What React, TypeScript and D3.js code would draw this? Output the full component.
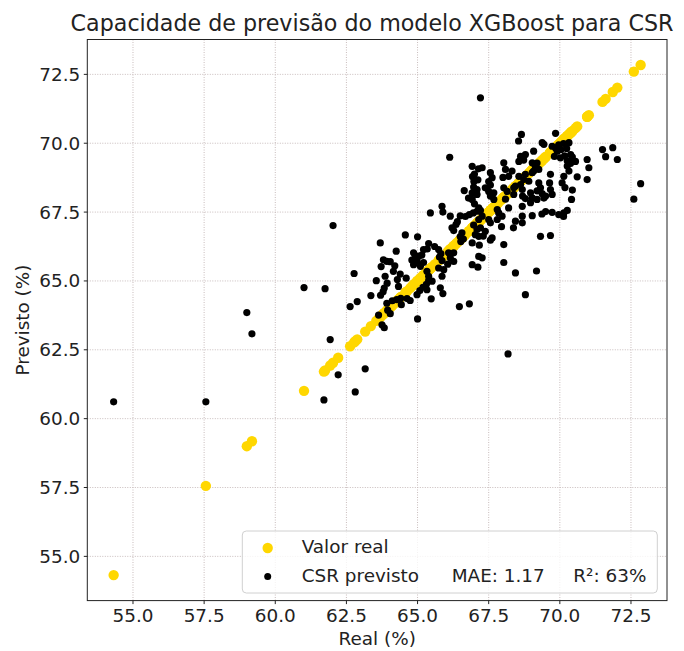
import React from "react";
import * as d3 from "d3";

// Real (%) values and model predictions (%)
const real: number[] = [
  54.32, 57.56, 59.0, 59.18, 61.01, 61.75, 61.71, 61.93, 62.03, 62.21, 62.77, 62.63, 62.81, 62.88, 63.16, 63.36,
  63.55, 63.63, 63.69, 63.72, 63.7, 63.79, 63.83, 63.75, 63.83, 63.8, 63.92, 64.04, 63.86, 63.93, 63.92, 63.95,
  64.04, 64.15, 64.39, 64.29, 64.25, 64.33, 64.11, 64.27, 64.41, 64.43, 64.63, 64.74, 64.57, 64.86, 64.92, 64.8,
  64.98, 65.04, 64.86, 65.1, 65.21, 65.15, 65.21, 65.39, 65.34, 65.45, 65.33, 65.39, 65.51, 64.98, 65.08, 65.19,
  65.31, 65.39, 65.33, 65.0, 65.48, 65.8, 65.89, 65.74, 65.82, 65.77, 65.86, 65.74, 65.92, 65.86, 65.86, 65.89,
  66.13, 66.09, 66.27, 66.15, 66.27, 66.06, 66.15, 66.35, 66.21, 66.27, 66.5, 66.68, 66.82, 66.96, 67.09, 67.15,
  66.56, 66.5, 66.61, 66.52, 66.64, 66.92, 67.09, 66.92, 66.79, 66.92, 67.14, 67.0, 67.27, 66.93, 67.12, 66.98,
  66.97, 67.09, 66.97, 67.09, 67.03, 67.15, 66.92, 67.17, 67.15, 66.92, 67.12, 67.21, 66.47, 66.82, 67.21, 67.27,
  67.15, 67.38, 67.5, 67.68, 67.56, 67.68, 67.56, 67.62, 67.5, 67.56, 67.8, 67.85, 67.5, 67.56, 67.38, 67.31,
  67.21, 67.62, 67.56, 67.27, 67.95, 68.03, 68.03, 68.03, 68.09, 68.32, 68.2, 68.0, 68.03, 68.38, 68.15, 68.38,
  68.09, 67.97, 67.8, 68.2, 68.44, 68.68, 68.37, 68.44, 68.65, 68.55, 68.62, 68.79, 68.73, 68.56, 68.79, 68.56,
  69.03, 68.73, 68.91, 68.62, 68.44, 68.68, 68.69, 68.79, 68.97, 68.68, 68.68, 68.79, 68.18, 69.03, 69.37, 69.5,
  69.08, 69.03, 69.2, 69.14, 69.26, 69.08, 69.26, 69.32, 69.2, 69.38, 68.97, 69.03, 69.2, 69.5, 69.67, 69.73,
  69.38, 69.44, 69.32, 69.67, 69.18, 69.67, 69.64, 69.44, 69.85, 69.73, 69.85, 69.96, 70.13, 70.32, 69.91, 70.04,
  70.24, 70.38, 69.81, 70.02, 70.17, 70.44, 70.26, 70.55, 70.38, 70.26, 70.14, 70.08, 70.18, 70.32, 70.61, 70.44,
  70.41, 69.73, 69.96, 70.14, 70.26, 70.13, 70.96, 71.02, 70.96, 71.5, 71.61, 71.86, 72.02, 72.6, 72.84,
  64.2, 64.6, 65.6, 65.0, 66.4, 67.0,
];

const previsto: number[] = [
  60.61, 60.61, 63.85, 63.08, 64.76, 64.72, 60.68, 62.87, 67.01, 61.59, 65.27, 64.07, 60.97, 64.25, 61.81, 64.47,
  65.01, 63.76, 66.38, 65.52, 64.48, 64.61, 64.74, 63.41, 63.3, 65.77, 65.71, 65.7, 65.17, 64.92, 64.19, 63.94,
  63.81, 65.35, 65.25, 65.05, 66.08, 64.8, 64.28, 64.32, 64.37, 64.14, 64.36, 64.29, 66.67, 66.02, 65.88, 65.76,
  65.71, 65.9, 65.59, 65.53, 66.14, 65.94, 65.67, 66.36, 66.16, 67.47, 65.35, 65.17, 64.99, 64.5, 64.65, 64.77,
  64.88, 65.01, 64.68, 63.62, 64.35, 64.75, 64.54, 66.14, 65.99, 65.87, 65.74, 65.47, 65.41, 65.17, 67.71, 67.5,
  69.49, 66.02, 66.02, 65.84, 65.71, 65.61, 67.35, 67.05, 66.93, 66.83, 67.36, 67.34, 67.41, 67.47, 67.53, 67.65,
  66.75, 66.61, 66.52, 66.43, 68.28, 68.2, 68.14, 67.96, 68.01, 69.16, 69.07, 68.88, 69.11, 68.79, 68.67, 68.61,
  68.41, 68.32, 67.03, 66.87, 66.68, 66.62, 66.38, 66.3, 65.89, 65.59, 65.5, 71.65, 64.07, 64.17, 67.56, 67.35,
  67.23, 68.38, 68.25, 68.2, 68.08, 67.96, 68.93, 68.75, 68.61, 68.48, 67.59, 67.47, 67.23, 67.11, 66.8, 66.63,
  66.93, 66.56, 66.48, 65.84, 66.97, 66.32, 65.67, 69.29, 69.05, 68.99, 68.8, 68.76, 68.38, 68.38, 68.25, 68.14,
  67.97, 67.35, 67.23, 67.65, 67.17, 67.11, 66.93, 65.29, 70.32, 70.08, 69.52, 69.59, 69.39, 69.34, 68.87, 68.8,
  68.93, 68.68, 68.62, 68.5, 68.44, 68.32, 68.08, 67.99, 67.84, 67.71, 67.35, 64.5, 62.35, 67.37, 67.43, 67.52,
  69.71, 69.29, 69.28, 69.16, 69.05, 68.99, 68.56, 68.38, 68.27, 68.17, 68.2, 68.02, 67.96, 68.08, 68.32, 68.14,
  70.02, 69.96, 66.62, 66.65, 65.36, 68.87, 68.56, 68.01, 70.36, 69.89, 69.83, 69.94, 69.99, 70.02, 69.71, 69.77,
  69.81, 69.59, 69.52, 69.47, 69.54, 69.5, 69.36, 69.34, 69.27, 69.17, 68.8, 68.56, 68.39, 68.99, 68.78, 68.3,
  67.96, 67.49, 67.41, 67.47, 67.56, 67.34, 69.41, 69.11, 68.68, 69.77, 69.51, 69.84, 69.41, 67.97, 68.53,
  65.55, 65.1, 66.25, 66.6, 67.15, 67.8,
];

const xTicks: number[] = [55, 57.5, 60, 62.5, 65, 67.5, 70, 72.5];
const yTicks: number[] = [55, 57.5, 60, 62.5, 65, 67.5, 70, 72.5];

const title = "Capacidade de previsão do modelo XGBoost para CSR";
const xLabel = "Real (%)";
const yLabel = "Previsto (%)";
const legendReal = "Valor real";
const legendPred = "CSR previsto";
const maeText = "MAE: 1.17";
const r2Text = "R²: 63%";

const W = 684;
const H = 651;
const FONT = "'DejaVu Sans', sans-serif";
const GOLD = "#FFD700";

export default function App() {
  const left = 87.3;
  const right = 667;
  const top = 39.5;
  const bottom = 600.6;

  const all = [...real, ...previsto];
  const lo = d3.min(all) as number;
  const hi = d3.max(all) as number;
  const pad = (hi - lo) * 0.05;

  const x = d3.scaleLinear().domain([lo - pad, hi + pad]).range([left, right]);
  const y = d3.scaleLinear().domain([lo - pad, hi + pad]).range([bottom, top]);
  const fmt = d3.format(".1f");

  return (
    <svg
      width={W}
      height={H}
      style={{ position: "absolute", left: 0, top: 0, background: "#fff" }}
      fontFamily={FONT}
    >
      <rect x={0} y={0} width={W} height={H} fill="#fff" />
      {/* grid */}
      <g stroke="#c8bcbc" strokeWidth={1} strokeDasharray="1,1.5">
        {xTicks.map((t) => (
          <line key={"gx" + t} x1={x(t)} x2={x(t)} y1={top} y2={bottom} />
        ))}
        {yTicks.map((t) => (
          <line key={"gy" + t} x1={left} x2={right} y1={y(t)} y2={y(t)} />
        ))}
      </g>

      {/* yellow: real vs real */}
      <g fill={GOLD}>
        {real.map((v, i) => (
          <circle key={"r" + i} cx={x(v)} cy={y(v)} r={5.2} />
        ))}
      </g>
      {/* black: real vs predicted */}
      <g fill="#000">
        {real.map((v, i) => (
          <circle key={"p" + i} cx={x(v)} cy={y(previsto[i])} r={3.6} />
        ))}
      </g>

      {/* frame */}
      <rect x={left} y={top} width={right - left} height={bottom - top} fill="none" stroke="#222" strokeWidth={1} />

      {/* ticks */}
      <g stroke="#222" strokeWidth={1}>
        {xTicks.map((t) => (
          <line key={"tx" + t} x1={x(t)} x2={x(t)} y1={bottom} y2={bottom + 3.5} />
        ))}
        {yTicks.map((t) => (
          <line key={"ty" + t} x1={left - 3.5} x2={left} y1={y(t)} y2={y(t)} />
        ))}
      </g>
      <g fontSize={18.4} fill="#222">
        {xTicks.map((t) => (
          <text key={"lx" + t} x={x(t)} y={bottom + 21.8} textAnchor="middle">
            {fmt(t)}
          </text>
        ))}
        {yTicks.map((t) => (
          <text key={"ly" + t} x={left - 7} y={y(t)} textAnchor="end" dominantBaseline="central">
            {fmt(t)}
          </text>
        ))}
      </g>

      {/* axis labels */}
      <text x={(left + right) / 2} y={645} textAnchor="middle" fontSize={18.4} fill="#222">
        {xLabel}
      </text>
      <text
        transform={`translate(29, ${(top + bottom) / 2}) rotate(-90)`}
        textAnchor="middle"
        fontSize={18.4}
        fill="#222"
      >
        {yLabel}
      </text>

      {/* title */}
      <text x={372} y={31} textAnchor="middle" fontSize={22.2} fill="#222">
        {title}
      </text>

      {/* legend */}
      <g>
        <rect x={242.3} y={531} width={415} height={62} rx={4} fill="#fff" fillOpacity={0.8} stroke="#d0d0d0" strokeWidth={1} />
        <circle cx={267.7} cy={548} r={5.2} fill={GOLD} />
        <circle cx={267.7} cy={576.5} r={3.5} fill="#000" />
        <g fontSize={18.4} fill="#222">
          <text x={301.7} y={553.3}>{legendReal}</text>
          <text x={301.7} y={581.7}>{legendPred}</text>
          <text x={451.7} y={581.7}>{maeText}</text>
          <text x={573.3} y={581.7}>{r2Text}</text>
        </g>
      </g>
    </svg>
  );
}
